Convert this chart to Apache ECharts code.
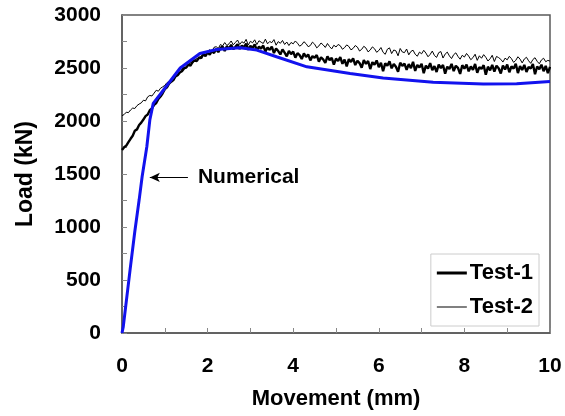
<!DOCTYPE html>
<html><head><meta charset="utf-8">
<script src="https://cdn.jsdelivr.net/npm/echarts@6/dist/echarts.min.js"></script>
<style>html,body{margin:0;padding:0;background:#fff}#c{width:565px;height:416px}</style>
</head><body><div id="c"></div>
<script>
var testMovement = [
0.00,0.05,0.10,0.15,0.20,0.25,0.30,0.35,0.40,0.45,0.50,0.55,0.60,0.65,0.70,0.75,0.80,0.85,0.90,0.95,
1.00,1.05,1.10,1.15,1.20,1.25,1.30,1.35,1.40,1.45,1.50,1.55,1.60,1.65,1.70,1.75,1.80,1.85,1.90,1.95,
2.00,2.05,2.10,2.15,2.20,2.25,2.30,2.35,2.40,2.45,2.50,2.55,2.60,2.65,2.70,2.75,2.80,2.85,2.90,2.95,
3.00,3.05,3.10,3.15,3.20,3.25,3.30,3.35,3.40,3.45,3.50,3.55,3.60,3.65,3.70,3.75,3.80,3.85,3.90,3.95,
4.00,4.05,4.10,4.15,4.20,4.25,4.30,4.35,4.40,4.45,4.50,4.55,4.60,4.65,4.70,4.75,4.80,4.85,4.90,4.95,
5.00,5.05,5.10,5.15,5.20,5.25,5.30,5.35,5.40,5.45,5.50,5.55,5.60,5.65,5.70,5.75,5.80,5.85,5.90,5.95,
6.00,6.05,6.10,6.15,6.20,6.25,6.30,6.35,6.40,6.45,6.50,6.55,6.60,6.65,6.70,6.75,6.80,6.85,6.90,6.95,
7.00,7.05,7.10,7.15,7.20,7.25,7.30,7.35,7.40,7.45,7.50,7.55,7.60,7.65,7.70,7.75,7.80,7.85,7.90,7.95,
8.00,8.05,8.10,8.15,8.20,8.25,8.30,8.35,8.40,8.45,8.50,8.55,8.60,8.65,8.70,8.75,8.80,8.85,8.90,8.95,
9.00,9.05,9.10,9.15,9.20,9.25,9.30,9.35,9.40,9.45,9.50,9.55,9.60,9.65,9.70,9.75,9.80,9.85,9.90,9.95,
10.00];
var test1Load = [
1726,1752,1768,1801,1832,1861,1908,1921,1962,1985,2014,2046,2061,2102,2118,2152,2170,2208,2231,2262,
2300,2318,2352,2371,2386,2421,2432,2458,2470,2496,2505,2531,2522,2560,2571,2566,2601,2592,2630,2611,
2648,2625,2662,2641,2679,2650,2688,2702,2661,2705,2682,2718,2676,2700,2725,2680,2712,2694,2731,2672,
2708,2690,2722,2665,2701,2684,2712,2655,2693,2670,2702,2641,2683,2660,2628,2676,2645,2610,2662,2631,
2655,2598,2640,2622,2585,2637,2604,2628,2571,2612,2596,2622,2560,2601,2582,2548,2610,2574,2595,2531,
2588,2566,2602,2540,2579,2515,2584,2557,2590,2528,2569,2546,2502,2574,2539,2566,2490,2555,2532,2571,
2508,2549,2470,2544,2521,2563,2497,2538,2512,2465,2550,2520,2541,2483,2536,2498,2558,2472,2529,2505,
2540,2451,2522,2494,2546,2480,2517,2462,2533,2500,2528,2447,2512,2490,2539,2471,2521,2502,2444,2526,
2493,2532,2468,2515,2482,2538,2455,2509,2491,2527,2436,2512,2478,2530,2466,2521,2497,2448,2524,2486,
2533,2460,2515,2494,2540,2452,2518,2481,2529,2463,2510,2496,2537,2441,2514,2488,2531,2470,2520,2452,
2510];
var test2Load = [
2050,2061,2083,2079,2104,2122,2118,2145,2160,2171,2196,2190,2228,2241,2236,2263,2290,2281,2309,2322,
2336,2362,2371,2398,2411,2430,2462,2451,2490,2508,2497,2533,2552,2541,2578,2590,2582,2617,2631,2622,
2660,2672,2655,2695,2701,2684,2722,2708,2740,2712,2728,2755,2719,2741,2764,2722,2748,2735,2770,2716,
2752,2738,2766,2721,2757,2744,2731,2772,2728,2750,2739,2768,2715,2749,2733,2760,2722,2745,2712,2741,
2728,2755,2734,2706,2719,2748,2730,2701,2712,2744,2725,2690,2708,2736,2718,2694,2731,2702,2680,2715,
2698,2722,2710,2677,2692,2718,2703,2671,2685,2712,2697,2660,2676,2705,2688,2652,2670,2699,2682,2648,
2665,2693,2648,2629,2677,2690,2636,2670,2662,2615,2684,2651,2645,2679,2624,2656,2668,2630,2611,2650,
2634,2667,2641,2606,2628,2660,2618,2600,2645,2655,2594,2631,2650,2614,2589,2626,2643,2609,2583,2620,
2603,2637,2612,2578,2598,2630,2572,2615,2592,2626,2601,2566,2587,2620,2561,2609,2598,2582,2556,2593,
2577,2610,2588,2553,2572,2606,2584,2548,2585,2601,2568,2544,2580,2597,2563,2540,2576,2592,2559,2572,
2565];
var numMovement = [0,0.03,0.19,0.30,0.40,0.47,0.58,0.65,0.73,0.89,1.04,1.36,1.82,2.21,2.76,3.15,3.61,4.32,5.33,6.1,7.27,8.44,9.22,10];
var numLoad = [0,60,600,960,1254,1474,1757,2009,2166,2250,2330,2500,2637,2675,2690,2669,2606,2511,2449,2405,2365,2350,2352,2372];
var xTicks = [0,2,4,6,8,10];
var yTicks = [0,500,1000,1500,2000,2500,3000];

function pairs(xs, ys){ return xs.map(function(x,i){ return [x, ys[i]]; }); }

var FONT = '"Liberation Sans", Arial, sans-serif';
var chart = echarts.init(document.getElementById('c'), null, {renderer:'canvas'});
chart.setOption({
  animation:false,
  textStyle:{fontFamily:FONT},
  grid:{left:122,right:15,top:15,bottom:83,containLabel:false,outerBoundsMode:'none',
    show:true,borderColor:'#5a5a5a',borderWidth:1.5,backgroundColor:'#fff'},
  legend:{
    right:26, top:254, orient:'vertical', itemWidth:30, itemHeight:14, itemGap:12,
    padding:[8,6,8,6], borderColor:'#ccc', borderWidth:1, backgroundColor:'#fff',
    textStyle:{fontFamily:FONT,fontWeight:'bold',fontSize:22,color:'#000',padding:[0,0,0,-2]},
    data:[
      {name:'Test-1',icon:'path://M0,0L30,0L30,3L0,3Z'},
      {name:'Test-2',icon:'path://M0,0L30,0L30,1L0,1Z'}
    ]
  },
  xAxis:{
    type:'value', min:0, max:10, interval:1,
    name:'Movement (mm)', nameLocation:'middle', nameGap:55,
    nameTextStyle:{fontFamily:FONT,fontWeight:'bold',fontSize:22,color:'#000'},
    axisLine:{lineStyle:{color:'#5a5a5a',width:1.5}},
    axisTick:{inside:true,length:5,lineStyle:{color:'#888'}},
    axisLabel:{margin:23,fontFamily:FONT,fontWeight:'bold',fontSize:21,color:'#000',
      formatter:function(v){ return xTicks.indexOf(v)>=0 ? String(v) : ''; }},
    splitLine:{show:false}
  },
  yAxis:{
    type:'value', min:0, max:3000, interval:250,
    name:'Load (kN)', nameLocation:'middle', nameGap:85, nameRotate:90,
    nameTextStyle:{fontFamily:FONT,fontWeight:'bold',fontSize:23,color:'#000'},
    axisLine:{lineStyle:{color:'#5a5a5a',width:1.5}},
    axisTick:{inside:true,length:5,lineStyle:{color:'#888'}},
    axisLabel:{margin:21,fontFamily:FONT,fontWeight:'bold',fontSize:21,color:'#000',
      formatter:function(v){ return yTicks.indexOf(v)>=0 ? String(v) : ''; }},
    splitLine:{show:false}
  },
  series:[
    {name:'Test-1',type:'line',symbol:'none',data:pairs(testMovement,test1Load),
      lineStyle:{color:'#000',width:2.4},itemStyle:{color:'#000'}},
    {name:'Test-2',type:'line',symbol:'none',data:pairs(testMovement,test2Load),
      lineStyle:{color:'#000',width:1},itemStyle:{color:'#000'}},
    {name:'Numerical',type:'line',symbol:'none',data:pairs(numMovement,numLoad),
      lineStyle:{color:'#1212ee',width:3},itemStyle:{color:'#1212ee'},
      markLine:{silent:true,symbol:['none','arrow'],symbolSize:[7,10],
        lineStyle:{color:'#000',width:1.2,type:'solid'},
        label:{show:true,position:'start',formatter:'Numerical',fontFamily:FONT,fontWeight:'bold',fontSize:21,color:'#000',distance:10},
        data:[[{coord:[1.54,1468]},{coord:[0.65,1468]}]]}}
  ]
});
</script></body></html>
